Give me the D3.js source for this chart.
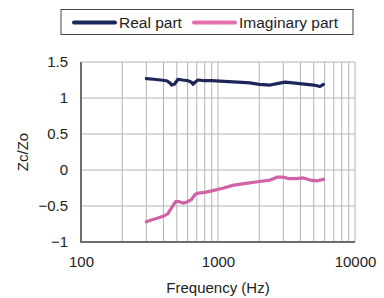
<!DOCTYPE html>
<html>
<head>
<meta charset="utf-8">
<script src="https://cdn.jsdelivr.net/npm/d3@7"></script>
<style>
  body { margin: 0; background: #fff; }
  text { font-family: "Liberation Sans", Arial, sans-serif; fill: #222; }
</style>
</head>
<body>
<svg width="384" height="298"></svg>
<script>
// values
var realFreq = [300, 340, 380, 422, 445, 459, 480, 511, 550, 604, 640, 657, 680, 714, 800, 900, 1100, 1400, 1712, 2000, 2398, 2700, 3085, 3500, 4440, 5000, 5555, 5880];
var realVal  = [1.27, 1.26, 1.25, 1.24, 1.21, 1.18, 1.19, 1.26, 1.25, 1.24, 1.22, 1.19, 1.22, 1.25, 1.24, 1.24, 1.23, 1.22, 1.21, 1.19, 1.18, 1.2, 1.22, 1.21, 1.19, 1.18, 1.16, 1.19];
var imagFreq = [300, 330, 360, 400, 430, 460, 490, 520, 560, 600, 640, 680, 720, 800, 900, 1100, 1300, 1700, 2000, 2400, 2700, 3000, 3300, 3700, 4200, 4700, 5300, 5880];
var imagVal  = [-0.72, -0.69, -0.67, -0.64, -0.61, -0.52, -0.44, -0.44, -0.46, -0.44, -0.41, -0.34, -0.32, -0.31, -0.29, -0.25, -0.21, -0.18, -0.16, -0.14, -0.10, -0.10, -0.12, -0.12, -0.11, -0.14, -0.15, -0.13];
var yTicks = [-1, -0.5, 0, 0.5, 1, 1.5];
var xTicks = [100, 1000, 10000];
var seriesNames = ["Real part", "Imaginary part"];
var seriesColors = ["#1d2658", "#d062a6"];

var svg = d3.select("svg");
var pLeft = 81, pRight = 355, pTop = 62, pBottom = 242;

var x = d3.scaleLog().domain([100, 10000]).range([pLeft, pRight]);
var y = d3.scaleLinear().domain([-1, 1.5]).range([pBottom, pTop]);

// grid
svg.append("g").selectAll("line")
  .data(x.ticks())
  .enter().append("line")
    .attr("x1", d => x(d)).attr("x2", d => x(d))
    .attr("y1", pTop).attr("y2", pBottom)
    .attr("stroke", "#b4b4b4").attr("stroke-width", 1);

svg.append("g").selectAll("line")
  .data(yTicks)
  .enter().append("line")
    .attr("x1", pLeft).attr("x2", pRight)
    .attr("y1", d => y(d)).attr("y2", d => y(d))
    .attr("stroke", "#b4b4b4").attr("stroke-width", 1);

// frame: darker left/bottom
svg.append("line").attr("x1", pLeft).attr("x2", pLeft).attr("y1", pTop).attr("y2", pBottom + 1)
  .attr("stroke", "#6e6e6e").attr("stroke-width", 2);
svg.append("line").attr("x1", pLeft - 1).attr("x2", pRight).attr("y1", pBottom).attr("y2", pBottom)
  .attr("stroke", "#6e6e6e").attr("stroke-width", 2);

// axes
var fmt = d3.format("");
svg.append("g")
  .attr("transform", "translate(" + pLeft + ",0)")
  .call(d3.axisLeft(y).tickValues(yTicks).tickSize(0).tickPadding(13).tickFormat(d => fmt(d)))
  .call(g => g.select(".domain").remove())
  .selectAll("text").style("font-size", "15px").attr("fill", "#222");

svg.append("g")
  .attr("transform", "translate(0," + pBottom + ")")
  .call(d3.axisBottom(x).tickValues(xTicks).tickSize(0).tickPadding(14).tickFormat(d3.format("d")))
  .call(g => g.select(".domain").remove())
  .selectAll("text").style("font-size", "15px").attr("fill", "#222");

svg.append("text")
  .attr("transform", "translate(28," + (pTop + pBottom) / 2 + ") rotate(-90)")
  .attr("text-anchor", "middle")
  .style("font-size", "15px")
  .text("Zc/Zo");

svg.append("text")
  .attr("x", (pLeft + pRight) / 2).attr("y", 293)
  .attr("text-anchor", "middle")
  .style("font-size", "15px")
  .text("Frequency (Hz)");

// lines
var line = d3.line().x(d => x(d[0])).y(d => y(d[1]));
var realData = d3.zip(realFreq, realVal);
var imagData = d3.zip(imagFreq, imagVal);

[realData, imagData].forEach((data, i) => {
  svg.append("path")
    .datum(data)
    .attr("d", line)
    .attr("fill", "none")
    .attr("stroke", seriesColors[i])
    .attr("stroke-width", 3.2)
    .attr("stroke-linejoin", "round")
    .attr("stroke-linecap", "round");
});

// legend
var legend = svg.append("g");
legend.append("rect")
  .attr("x", 61).attr("y", 9.5).attr("width", 292).attr("height", 25)
  .attr("fill", "#fff").attr("stroke", "#444").attr("stroke-width", 1);

var legendX = [74, 194];
seriesNames.forEach((name, i) => {
  legend.append("line")
    .attr("x1", legendX[i]).attr("x2", legendX[i] + 41)
    .attr("y1", 22.5).attr("y2", 22.5)
    .attr("stroke", i === 0 ? seriesColors[0] : "#e46fb1")
    .attr("stroke-width", 4)
    .attr("stroke-linecap", "round");
  legend.append("text")
    .attr("x", legendX[i] + 45).attr("y", 28)
    .style("font-size", "15.5px")
    .text(name);
});
</script>
</body>
</html>
